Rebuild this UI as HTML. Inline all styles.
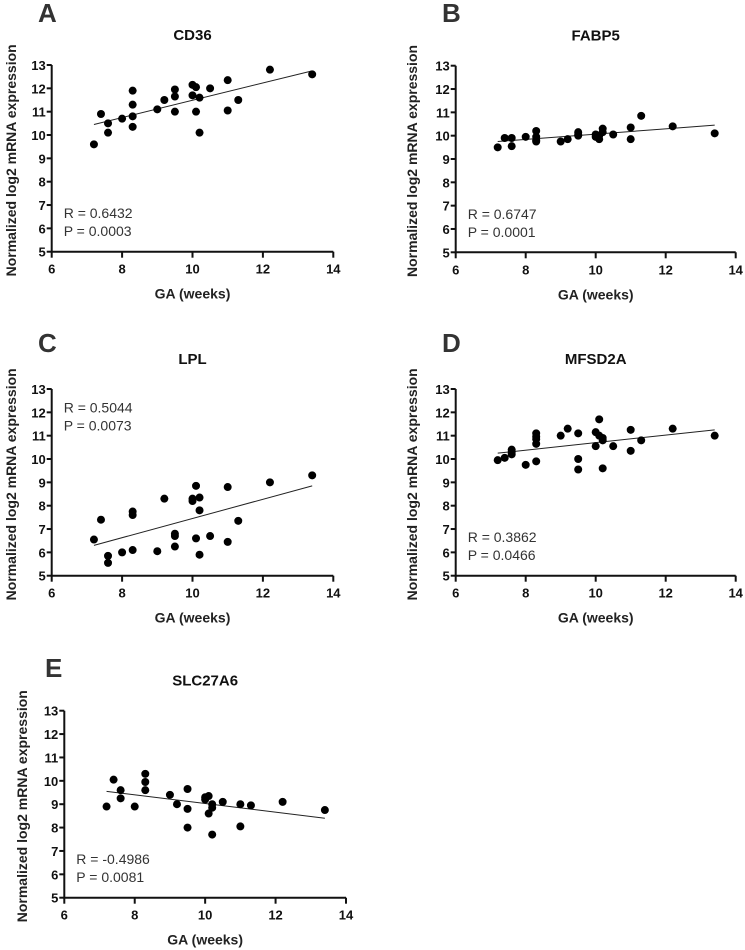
<!DOCTYPE html>
<html><head><meta charset="utf-8"><style>
body{margin:0;background:#fff;}
svg{display:block;font-family:"Liberation Sans",Arial,sans-serif;}
</style></head><body>
<svg id="fig" width="745" height="950" viewBox="0 0 745 950"></svg>
<script>
const xTicks=[6,8,10,12,14];
const yTicks=[5,6,7,8,9,10,11,12,13];
const titles=["CD36","FABP5","LPL","MFSD2A","SLC27A6"];
const letters=["A","B","C","D","E"];
const rVals=["R = 0.6432","R = 0.6747","R = 0.5044","R = 0.3862","R = -0.4986"];
const pVals=["P = 0.0003","P = 0.0001","P = 0.0073","P = 0.0466","P = 0.0081"];
const statY=[6.65,6.65,12.2,6.65,6.65];
const gaA=[7.2,7.4,7.6,7.6,8.0,8.3,8.3,8.3,8.3,9.0,9.2,9.5,9.5,9.5,10.0,10.1,10.0,10.1,10.2,10.2,10.5,11.0,11.0,11.3,12.2,13.4];
const exA=[9.6,10.9,10.5,10.1,10.7,11.9,11.3,10.8,10.35,11.1,11.5,11.95,11.65,11.0,12.15,12.05,11.7,11.0,11.6,10.1,12.0,12.35,11.05,11.5,12.8,12.6];
const gaB=[7.2,7.4,7.6,7.6,8.0,8.3,8.3,8.3,8.3,9.0,9.2,9.5,9.5,9.5,10.0,10.1,10.0,10.1,10.2,10.2,10.5,11.0,11.0,11.3,12.2,13.4];
const exB=[9.5,9.9,9.9,9.55,9.95,10.2,9.95,9.8,9.75,9.75,9.85,10.15,10.05,10.0,10.05,10.0,9.95,9.85,10.3,10.15,10.05,10.35,9.85,10.85,10.4,10.1];
const gaC=[7.2,7.4,7.6,7.6,8.0,8.3,8.3,8.3,9.0,9.2,9.5,9.5,9.5,10.0,10.0,10.1,10.1,10.2,10.2,10.2,10.5,11.0,11.0,11.3,12.2,13.4];
const exC=[6.55,7.4,5.85,5.55,6.0,7.75,7.6,6.1,6.05,8.3,6.8,6.7,6.25,8.3,8.2,8.85,6.6,8.35,7.8,5.9,6.7,8.8,6.45,7.35,9.0,9.3];
const gaD=[7.2,7.4,7.6,7.6,7.6,8.0,8.3,8.3,8.3,8.3,8.3,9.0,9.2,9.5,9.5,9.5,10.0,10.0,10.1,10.1,10.2,10.2,10.2,10.5,11.0,11.0,11.3,12.2,13.4];
const exD=[9.95,10.05,10.4,10.2,10.3,9.75,11.1,10.95,10.85,10.65,9.9,11.0,11.3,11.1,10.0,9.55,11.15,10.55,11.7,11.0,10.9,10.8,9.6,10.55,11.25,10.35,10.8,11.3,11.0];
const gaE=[7.2,7.4,7.6,7.6,8.0,8.3,8.3,8.3,9.0,9.2,9.5,9.5,9.5,10.0,10.0,10.1,10.1,10.2,10.2,10.2,10.5,11.0,11.0,11.3,12.2,13.4];
const exE=[8.9,10.05,9.6,9.25,8.9,10.3,9.95,9.6,9.4,9.0,9.65,8.8,8.0,9.3,9.2,9.35,8.6,9.0,8.85,7.7,9.1,9.0,8.05,8.95,9.1,8.75];
const fitX=[[7.2,13.4],[7.2,13.4],[7.2,13.4],[7.2,13.4],[7.2,13.4]];
const fitY=[[10.45,12.75],[9.75,10.45],[6.3,8.85],[10.25,11.25],[9.55,8.4]];
const gaAll=[gaA,gaB,gaC,gaD,gaE];
const exAll=[exA,exB,exC,exD,exE];
// layout (pixel geometry)
const L=[{x0:51.7,x1:333.3,yT:65,yB:251.7,lx:38,ly:22,yl:11},
         {x0:455.7,x1:735.7,yT:65.7,yB:252.3,lx:442,ly:22,yl:412},
         {x0:51.7,x1:333.3,yT:389,yB:575.7,lx:38,ly:352,yl:11},
         {x0:455.7,x1:735.7,yT:389,yB:575.7,lx:442,ly:352,yl:412},
         {x0:64.3,x1:346,yT:710.7,yB:897.7,lx:45,ly:677,yl:22}];
const NS="http://www.w3.org/2000/svg";
const svg=document.getElementById('fig');
function mk(tag,attrs,parent){const e=document.createElementNS(NS,tag);for(const k in attrs)e.setAttribute(k,attrs[k]);(parent||svg).appendChild(e);return e;}
for(let p=0;p<5;p++){
  const g=L[p];
  const sx=v=>g.x0+(v-6)/8*(g.x1-g.x0);
  const sy=v=>g.yB-(v-5)/8*(g.yB-g.yT);
  const grp=mk('g',{});
  
  
  let t=mk('text',{x:g.lx,y:g.ly,'font-size':26,'font-weight':'bold',fill:'#333'},grp);t.textContent=letters[p];
  
  t=mk('text',{x:(g.x0+g.x1)/2,y:g.yT-25,'font-size':15,'font-weight':'bold','text-anchor':'middle',fill:'#111'},grp);t.textContent=titles[p];
  
  const ax=mk('path',{d:`M${g.x0},${g.yT} V${g.yB} H${g.x1}`,stroke:'#111','stroke-width':2,fill:'none'},grp);
  
  for(const v of yTicks){
    mk('line',{x1:g.x0-5,x2:g.x0,y1:sy(v),y2:sy(v),stroke:'#111','stroke-width':2},grp);
    t=mk('text',{x:g.x0-6,y:sy(v)+5,'font-size':13,'font-weight':'bold','text-anchor':'end',fill:'#111'},grp);t.textContent=v;
    
  }
  for(const v of xTicks){
    mk('line',{x1:sx(v),x2:sx(v),y1:g.yB,y2:g.yB+6,stroke:'#111','stroke-width':2},grp);
    t=mk('text',{x:sx(v),y:g.yB+22,'font-size':13,'font-weight':'bold','text-anchor':'middle',fill:'#111'},grp);t.textContent=v;
    
  }
  t=mk('text',{x:(g.x0+g.x1)/2,y:g.yB+47,'font-size':14,'font-weight':'bold','text-anchor':'middle',fill:'#222'},grp);t.textContent='GA (weeks)';
  
  const cy=(g.yT+g.yB)/2+2;
  t=mk('text',{x:g.yl,y:cy,'font-size':14,'font-weight':'bold','text-anchor':'middle',fill:'#222',transform:`rotate(-90 ${g.yl} ${cy}) translate(0 5)`},grp);t.textContent='Normalized log2 mRNA expression';
  
  t=mk('text',{x:g.x0+12,y:sy(statY[p])+5,'font-size':14,fill:'#333'},grp);t.textContent=rVals[p];
  
  t=mk('text',{x:g.x0+12,y:sy(statY[p])+23,'font-size':14,fill:'#333'},grp);t.textContent=pVals[p];
  
  const ln=mk('line',{x1:sx(fitX[p][0]),y1:sy(fitY[p][0]),x2:sx(fitX[p][1]),y2:sy(fitY[p][1]),stroke:'#222','stroke-width':1},grp);
  
  const xs=gaAll[p],ys=exAll[p];
  for(let i=0;i<xs.length;i++){
    const c=mk('circle',{cx:sx(xs[i]),cy:sy(ys[i]),r:4,fill:'#000'},grp);
    
    
  }
}
</script>
</body></html>
